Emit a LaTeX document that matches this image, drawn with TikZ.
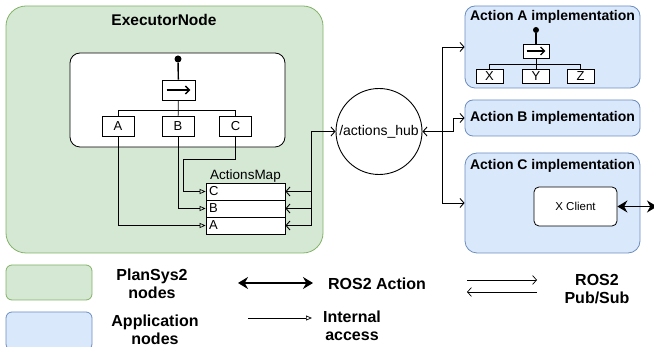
\documentclass[tikz,border=0pt]{standalone}
\usepackage{fontspec}
\setmainfont{Liberation Sans}
\usetikzlibrary{arrows.meta, positioning, calc}

\definecolor{plansysfill}{HTML}{D5E8D4}
\definecolor{plansysline}{HTML}{82B366}
\definecolor{appfill}{HTML}{DAE8FC}
\definecolor{appline}{HTML}{6C8EBF}

\tikzset{
  plansysbox/.style={draw=plansysline, fill=plansysfill, line width=0.8pt},
  appbox/.style={draw=appline, fill=appfill, line width=0.8pt},
  whitebox/.style={draw, fill=white, line width=0.8pt, inner sep=0pt},
  leafbox/.style={whitebox, font=\fontsize{13}{13}\selectfont},
  mapcell/.style={draw, fill=white, line width=0.8pt, minimum height=17pt, text width=73pt,
    inner sep=3pt, align=left, font=\fontsize{13}{13}\selectfont},
  rootdot/.style={circle, fill=black, inner sep=0pt, minimum size=7pt},
  seqarrow/.style={-{Straight Barb[length=4pt,width=8pt]}, line width=1.4pt},
  internal/.style={-{Triangle[open,length=6pt,width=5pt]}, line width=0.7pt},
  pubsub/.style={-{Straight Barb[length=4pt,width=9pt]}, line width=0.9pt},
  pubsubboth/.style={{Straight Barb[length=4pt,width=9pt]}-{Straight Barb[length=4pt,width=9pt]}, line width=0.9pt},
  pubsubback/.style={{Straight Barb[length=4pt,width=9pt]}-, line width=0.9pt},
  rosaction/.style={{Stealth[length=10pt,width=12pt]}-{Stealth[length=10pt,width=12pt]}, line width=1.6pt},
  titletext/.style={font=\fontsize{15.5}{18}\selectfont\bfseries},
  actiontitle/.style={font=\fontsize{14}{16}\selectfont\bfseries},
  legendtext/.style={font=\fontsize{16}{18}\selectfont\bfseries, align=center}
}

\begin{document}
\begin{tikzpicture}[x=1pt, y=-1pt]
    \useasboundingbox (0,0) rectangle (654,347);
    \clip (0,0) rectangle (654,347);

    % Executor node
    \node[plansysbox, rounded corners=20pt, minimum width=317pt, minimum height=247pt] (executor) at (164.5,129.5) {};
    \node[titletext] (executortitle) at (164,20) {ExecutorNode};

    % Behavior tree of the executor
    \node[whitebox, rounded corners=10pt, minimum width=215pt, minimum height=94pt] (btframe) at (177.5,100) {};
    \node[rootdot] (btroot) at (178,59) {};
    \node[whitebox, minimum width=33pt, minimum height=20pt] (btseq) at (178.5,90) {};
    \draw[seqarrow] ($(btseq.west)+(5,0)$) -- ($(btseq.east)+(-5,0)$);
    \node[leafbox, minimum width=32pt, minimum height=20pt] (leafA) at (118,126) {A};
    \node[leafbox, minimum width=32pt, minimum height=20pt] (leafB) at (178,126) {B};
    \node[leafbox, minimum width=32pt, minimum height=20pt] (leafC) at (235.5,126) {C};
    \draw[line width=1.4pt] (btroot) -- (btseq);
    \draw[line width=0.8pt] (btseq) -- (leafB);
    \draw[line width=0.8pt] (leafA.north) -- ++(0,-5) -| (leafC.north);

    % Actions map
    \node[mapcell] (mapC) at (245.5,191.5) {C};
    \node[mapcell] (mapB) at (245.5,208.5) {B};
    \node[mapcell] (mapA) at (245.5,225.5) {A};
    \node[anchor=south, inner sep=0.5pt, font=\fontsize{13.5}{14}\selectfont] (maptitle) at (mapC.north) {ActionsMap};

    % Internal access from the leaves
    \coordinate (cbend) at (183,159);
    \draw[internal] (leafA.south) |- (mapA.west);
    \draw[internal] (leafB.south) |- (mapB.west);
    \draw[internal] (leafC.south) |- (cbend) |- (mapC.west);

    % Actions hub
    \node[draw, circle, line width=0.9pt, minimum size=86pt, inner sep=0pt, font=\fontsize{14}{14}\selectfont] (hub) at (379,131.5) {/actions\_hub};
    \coordinate (lbus) at (311,131.5);
    \draw[pubsubboth] (mapA.east) -| (lbus) -- (hub.west);
    \draw[pubsubback] (mapB.east) -- (mapB.east -| lbus);
    \draw[pubsubback] (mapC.east) -- (mapC.east -| lbus);

    % Action implementations
    \node[appbox, rounded corners=10pt, minimum width=175pt, minimum height=82pt] (actA) at (552.5,47) {};
    \node[actiontitle] (actAtitle) at (552.5,17) {Action A implementation};
    \node[appbox, rounded corners=8pt, minimum width=175pt, minimum height=36pt, actiontitle] (actB) at (552.5,118) {Action B implementation};
    \node[appbox, rounded corners=12pt, minimum width=175pt, minimum height=100pt] (actC) at (552.5,203) {};
    \node[actiontitle] (actCtitle) at (552.5,166) {Action C implementation};

    % Behavior tree of action A
    \node[rootdot, minimum size=6pt] (aroot) at (536,30) {};
    \node[whitebox, minimum width=26pt, minimum height=14pt] (aseq) at (536,51) {};
    \draw[seqarrow, line width=1.2pt] ($(aseq.west)+(4,0)$) -- ($(aseq.east)+(-4,0)$);
    \node[leafbox, minimum width=27pt, minimum height=14pt] (leafX) at (489.5,76) {X};
    \node[leafbox, minimum width=27pt, minimum height=14pt] (leafY) at (536,76) {Y};
    \node[leafbox, minimum width=27pt, minimum height=14pt] (leafZ) at (580.5,76) {Z};
    \draw[line width=1.2pt] (aroot) -- (aseq);
    \draw[line width=0.8pt] (aseq) -- (leafY);
    \draw[line width=0.8pt] (leafX.north) -- ++(0,-4) -| (leafZ.north);

    % Hub to implementations
    \coordinate (rbus) at (442,131.5);
    \coordinate (bbend) at (453,131.5);
    \draw[pubsubboth] (hub.east) -- (rbus) |- (actA.west);
    \draw[pubsub] (rbus) -- (bbend) |- (actB.west);
    \draw[pubsub] (rbus) |- (actC.west);

    % Client of action C
    \node[whitebox, rounded corners=5pt, minimum width=83pt, minimum height=39pt, font=\fontsize{11.5}{12}\selectfont] (xclient) at (575.5,206.5) {X Client};
    \coordinate (xserver) at (657,206.5);
    \draw[rosaction] (xclient.east) -- (xserver);

    % Legend
    \node[plansysbox, rounded corners=6pt, minimum width=86pt, minimum height=35pt] (legplansys) at (49,282.5) {};
    \node[legendtext] (legplansystext) at (152,284) {PlanSys2\\nodes};
    \node[appbox, rounded corners=6pt, minimum width=86pt, minimum height=38pt] (legapp) at (49,331) {};
    \node[legendtext] (legapptext) at (155,329.5) {Application\\nodes};

    \coordinate (rosfrom) at (238,283);
    \coordinate (rosto) at (313,283);
    \draw[rosaction] (rosfrom) -- (rosto);
    \node[legendtext] (legros) at (377,283.5) {ROS2 Action};

    \coordinate (intfrom) at (248,318);
    \coordinate (intto) at (312,318);
    \draw[internal] (intfrom) -- (intto);
    \node[legendtext] (legint) at (352,326) {Internal\\access};

    \coordinate (psfrom) at (467,280);
    \coordinate (psto) at (537,280);
    \coordinate (psbackfrom) at (537,292);
    \coordinate (psbackto) at (467,292);
    \draw[pubsub, line width=0.7pt] (psfrom) -- (psto);
    \draw[pubsub, line width=0.7pt] (psbackfrom) -- (psbackto);
    \node[legendtext] (legps) at (597,289.5) {ROS2\\Pub/Sub};
\end{tikzpicture}
\end{document}
